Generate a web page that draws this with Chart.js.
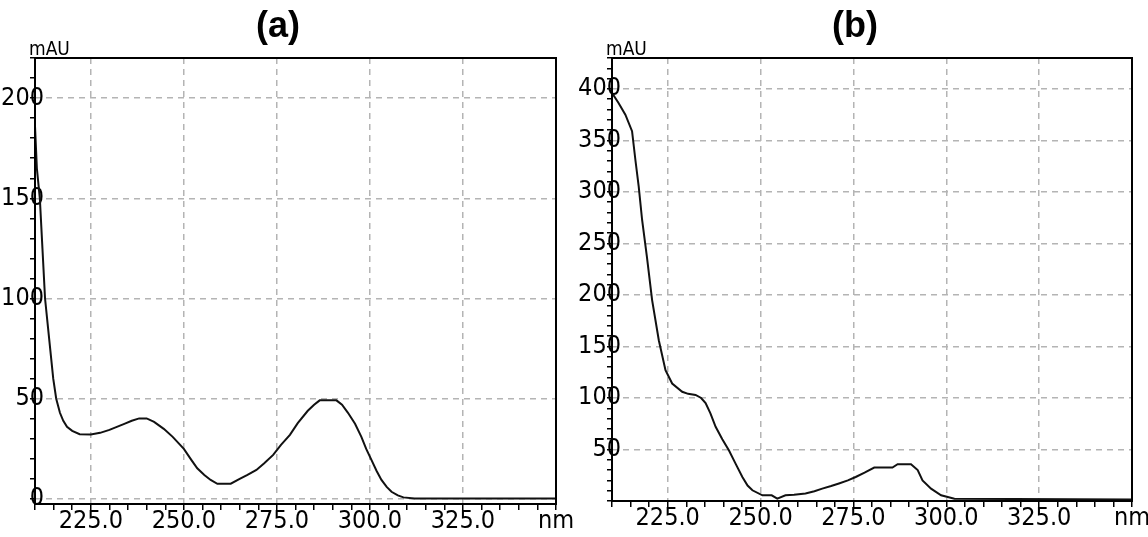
<!DOCTYPE html>
<html lang="en">
<head>
<meta charset="UTF-8">
<title>UV spectra (a) and (b)</title>
<script src="https://cdn.jsdelivr.net/npm/chart.js"></script>
<style>
  html, body { margin: 0; padding: 0; background: #fff; }
  body { width: 1148px; height: 537px; position: relative; overflow: hidden; }
  .panel { position: absolute; top: 0; width: 574px; height: 537px; }
</style>
</head>
<body>
<div class="panel" style="left:0"><canvas id="chartA"></canvas></div>
<div class="panel" style="left:574px"><canvas id="chartB"></canvas></div>

<script>
// spectrum (a): wavelength in nm, absorbance in mAU
const nmA = [210, 210.5, 211.3, 212, 212.7, 213.8, 214.9, 215.7, 216.7, 217.6, 218.6, 220, 222, 225,
  227.5, 230, 232, 234, 236, 238, 240, 242, 244.6, 247, 250, 252, 253.6, 255.5, 257.2, 259, 262.6,
  265, 267.1, 269.5, 271.6, 274, 276.1, 278.5, 280.6, 283.3, 285, 286.5, 291, 292.5, 294.1, 296,
  297.7, 299, 300.4, 301.8, 303.1, 304.5, 305.8, 307.5, 309, 312, 350];
const mauA = [186, 165, 150, 125, 100, 80, 60, 50, 43, 39, 36, 34, 32.3, 32.2,
  33, 34.5, 36, 37.5, 39, 40.2, 40.2, 38.5, 35, 31, 25, 19.5, 15.3, 12, 9.5, 7.6, 7.6,
  10, 12, 14.5, 17.8, 22, 27, 32, 37.8, 44, 47, 49.2, 49.2, 47, 43, 37.5,
  31, 25, 19.5, 14, 9.5, 6, 3.6, 1.8, 0.8, 0.3, 0.3];

// spectrum (b)
const nmB = [210.2, 211.8, 213.6, 215.4, 216.3, 217.2, 218.1, 219.4, 220.8, 222.6, 224.4, 226.2,
  228.9, 230.5, 232.5, 234, 235.2, 236.5, 237.9, 239.7, 241.5, 243.3, 245.1, 246.5, 247.8, 250.5,
  253, 254.5, 256.7, 259, 262.1, 264.5, 266.6, 269, 271.1, 273.5, 275.6, 278, 280.6, 285.5, 286.9,
  290.5, 292.3, 293.6, 295.9, 298.6, 302.2, 350];
const mauB = [395, 386, 375, 359, 331, 305, 273, 237, 195, 156, 127, 114,
  106, 104, 103, 100, 95, 85, 72, 60, 49, 36, 23.3, 15, 10.4, 5.5,
  5.5, 2.3, 5.5, 6, 7.2, 9.5, 12, 14.5, 17, 20, 23.3, 27.5, 32.5, 32.5, 35.7,
  35.7, 30, 20, 12, 5.5, 2.3, 1.5];

const xTickLabels = [225, 250, 275, 300, 325];
const yTickLabelsA = [0, 50, 100, 150, 200];
const yTickLabelsB = [50, 100, 150, 200, 250, 300, 350, 400];

const fontFamily = '"DejaVu Sans Condensed", "Liberation Sans", sans-serif';
const tickFont = { family: fontFamily, size: 25 };
const gridGrey = '#b4b4b4';

// y labels sit across the axis line, so measure the widest one to place them
function textWidth(str) {
  const c = document.createElement('canvas').getContext('2d');
  c.font = tickFont.size + 'px ' + fontFamily;
  return c.measureText(str).width;
}

// tick marks every `step` units from 0 up to the top of the axis
function tickMarks(scale, step) {
  const out = [];
  for (let v = 0; v <= scale.max + 1e-9; v += step) {
    if (v >= scale.min) out.push({ value: v });
  }
  scale.ticks = out;
}

// box around the plot area, panel letter and the mAU unit
const framePlugin = {
  id: 'frame',
  afterDraw(chart, args, opts) {
    const { ctx, chartArea: a } = chart;
    ctx.save();
    ctx.strokeStyle = '#000';
    ctx.lineWidth = 2;
    ctx.strokeRect(a.left, a.top, a.right - a.left, a.bottom - a.top);
    ctx.fillStyle = '#000';
    ctx.textAlign = 'center';
    ctx.textBaseline = 'middle';
    ctx.font = 'bold 36px "Liberation Sans", Arial, sans-serif';
    ctx.fillText(opts.title, opts.titleX, 27);
    ctx.textAlign = 'left';
    ctx.textBaseline = 'alphabetic';
    ctx.font = '19px ' + fontFamily;
    ctx.fillText('mAU', a.left - 6, 55);
    ctx.restore();
  }
};

function makeChart(id, title, titleX, nm, mau, yMin, yMax, yLabels, axisW, axisH, padRight) {
  const widest = Math.max(...yLabels.map(v => textWidth(String(v))));
  const ctx = document.getElementById(id).getContext('2d');
  return new Chart(ctx, {
    type: 'line',
    data: {
      datasets: [{
        data: nm.map((x, i) => ({ x: x, y: mau[i] })),
        borderColor: '#111',
        borderWidth: 2,
        pointRadius: 0,
        tension: 0,
        fill: false
      }]
    },
    options: {
      responsive: true,
      maintainAspectRatio: false,
      animation: false,
      layout: { padding: { top: 58, left: 0, right: padRight, bottom: 0 } },
      plugins: {
        legend: { display: false },
        tooltip: { enabled: false },
        frame: { title: title, titleX: titleX }
      },
      scales: {
        x: {
          type: 'linear',
          min: 210,
          max: 350,
          afterBuildTicks: s => tickMarks(s, 5),
          afterFit: s => { s.height = axisH; },
          ticks: {
            autoSkip: false,
            maxRotation: 0,
            padding: -4,
            color: '#000',
            font: tickFont,
            callback: v => v === 350 ? 'nm' : (xTickLabels.includes(v) ? v.toFixed(1) : '')
          },
          grid: {
            color: c => xTickLabels.includes(c.tick.value) ? gridGrey : 'transparent',
            lineWidth: 1.5,
            tickLength: 6,
            tickColor: '#000',
            tickWidth: 1.5
          },
          border: { display: false, dash: [6, 5] }
        },
        y: {
          min: yMin,
          max: yMax,
          afterBuildTicks: s => tickMarks(s, 10),
          afterFit: s => { s.width = axisW; },
          ticks: {
            autoSkip: false,
            mirror: true,
            crossAlign: 'far',
            padding: 9 - widest,
            color: '#000',
            font: tickFont,
            callback: v => yLabels.includes(v) ? String(v) : ''
          },
          grid: {
            color: c => yLabels.includes(c.tick.value) ? gridGrey : 'transparent',
            lineWidth: 1.5,
            tickLength: 5,
            tickColor: '#000',
            tickWidth: 1.5
          },
          border: { display: false, dash: [6, 5] }
        }
      }
    },
    plugins: [framePlugin]
  });
}

makeChart('chartA', '(a)', 278, nmA, mauA, -2.5, 220, yTickLabelsA, 35, 33, 18);
makeChart('chartB', '(b)', 281, nmB, mauB, 0, 430, yTickLabelsB, 38, 36, 16);
</script>
</body>
</html>
